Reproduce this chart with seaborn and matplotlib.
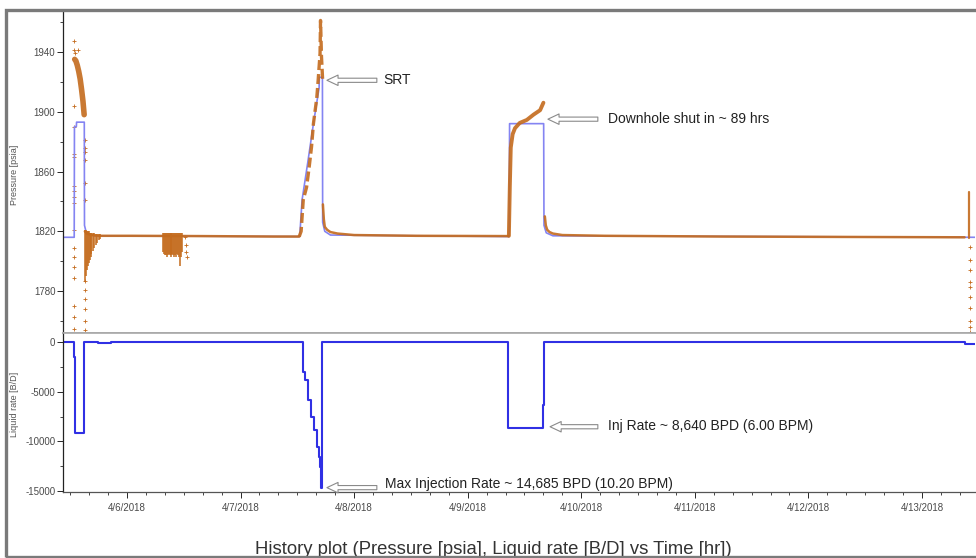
import numpy as np
import pandas as pd
import matplotlib
matplotlib.use("Agg")
import matplotlib.pyplot as plt
import matplotlib.dates as mdates
from matplotlib.patches import Rectangle
from matplotlib.ticker import MultipleLocator
import seaborn as sns

# time origin: all times below are hours since 4/5/2018 00:00
T0 = pd.Timestamp("2018-04-05 00:00")

# model (simulated) pressure, psia
model_t = [10.5, 12.85, 12.9, 13.3, 13.35, 14.98, 15.02, 15.4, 17.0, 60.5, 61.0,
           62.2, 63.4, 64.6, 64.65, 65.3, 65.35, 65.8, 67.0, 104.75, 104.85,
           112.05, 112.12, 112.6, 114.0, 203.2]
model_p = [1816, 1816, 1890, 1890, 1893, 1893, 1824, 1819, 1817, 1816.5, 1841,
           1866, 1892, 1916, 1923, 1923, 1826, 1820, 1817.5, 1816.5, 1892,
           1892, 1824, 1819, 1817, 1816]

# gauge pressure, continuous parts
inj1_t = [12.95, 13.2, 13.5, 13.8, 14.1, 14.4, 14.7, 14.95]
inj1_p = [1935, 1934, 1931, 1927, 1922, 1915, 1907, 1898]
flat1_t = [15.1, 15.5, 16.5, 18.5, 25.0, 40.0, 55.0, 60.4]
flat1_p = [1820, 1818.5, 1817.5, 1817, 1817, 1816.8, 1816.5, 1816.5]
srt_t = [60.4, 60.8, 61.25, 61.95, 62.5, 63.0, 63.4, 64.1, 64.4, 64.8, 64.9, 65.1, 65.35]
srt_p = [1816.5, 1820, 1841, 1849.5, 1863, 1876.5, 1892, 1909, 1921, 1939, 1961, 1937, 1921]
fall1_t = [65.4, 65.6, 65.8, 66.3, 67.0, 68.5, 72.0, 85.0, 104.6]
fall1_p = [1838, 1828, 1823, 1821, 1819.5, 1818.5, 1817.5, 1817, 1816.8]
inj2_t = [104.7, 104.9, 105.1, 105.5, 106.0, 107.0, 108.5, 109.9, 111.3, 112.0]
inj2_p = [1817, 1850, 1876, 1885, 1889, 1892.5, 1894.5, 1898, 1901, 1906]
fall2_t = [112.3, 112.5, 112.8, 113.3, 114.0, 116.0, 125.0, 150.0, 180.0, 201.0]
fall2_p = [1830, 1824, 1821, 1819.5, 1818.5, 1817.5, 1817, 1816.5, 1816.2, 1816]
end_t = [202.0, 202.0]
end_p = [1846, 1815.5]

# gauge pressure, loose points
loose_t = [12.7, 12.7, 12.7, 12.7, 12.7, 12.7, 12.7, 12.7, 12.7, 12.7, 12.7, 12.7,
           12.7, 12.7, 12.7, 12.7, 12.7, 12.7, 13.0, 13.7,
           15.05, 15.05, 15.05, 15.05, 15.05, 15.05, 15.05, 15.05, 15.05, 15.05,
           15.05, 15.05,
           36.3, 36.4, 36.5, 36.6,
           202.2, 202.2, 202.2, 202.2, 202.2, 202.2, 202.2, 202.2, 202.2, 202.2]
loose_p = [1947, 1941, 1904, 1890, 1872, 1870, 1850, 1847, 1843, 1839, 1821, 1809,
           1803, 1796, 1789, 1770, 1763, 1755, 1939, 1941.5,
           1881, 1876, 1873, 1868, 1852, 1841, 1787, 1781, 1775, 1768,
           1760, 1754,
           1816, 1811, 1806, 1803,
           1809.5, 1800.5, 1794, 1786, 1783, 1776, 1769, 1760, 1756, 1752.5]

# gauge pressure, dense noisy bands (low / high per time)
band1_t = [15.1, 15.3, 15.5, 15.7, 15.9, 16.1, 16.3, 16.5, 16.8, 17.1, 17.4, 17.7, 18.0, 18.3]
band1_lo = [1786, 1790, 1794, 1797, 1799, 1801, 1803, 1805, 1807, 1809, 1811, 1812, 1814, 1815]
band1_hi = [1821, 1821, 1820, 1820, 1820, 1819, 1819, 1819, 1819, 1819, 1818, 1818, 1818, 1818]
band2_t = [31.6, 31.8, 32.0, 32.2, 32.4, 32.6, 32.8, 33.0, 33.2, 33.4, 33.6,
           33.8, 34.0, 34.2, 34.4, 34.6, 34.8, 35.0, 35.2, 35.4, 35.6]
band2_lo = [1806, 1805, 1804, 1804, 1803, 1804, 1805, 1804, 1803, 1804, 1805,
            1804, 1803, 1804, 1803, 1805, 1804, 1803, 1797, 1803, 1806]
band2_hi = [1819, 1819, 1819, 1819, 1819, 1819, 1819, 1819, 1819, 1819, 1819,
            1819, 1819, 1819, 1819, 1819, 1819, 1819, 1819, 1819, 1819]

# liquid rate, B/D (step values)
rate_t = [10.5, 12.8, 12.95, 15.0, 17.9, 20.6, 61.1, 61.6, 62.2, 62.9, 63.5,
          64.1, 64.5, 64.8, 64.9, 65.3, 104.6, 112.0, 112.1, 201.0, 203.2]
rate_q = [0, -1500, -9150, 0, -150, 0, -3000, -3800, -5850, -7500, -8850,
          -10550, -11550, -12550, -14685, 0, -8640, -6300, 0, -200, -200]

ORANGE = "#c46b1d"
BLUE_P = "#8484f2"
BLUE_Q = "#3030e4"
GREY = "#4a4a4a"


def hrs(h):
    return T0 + pd.to_timedelta(np.asarray(h, dtype=float), unit="h")


def num(h):
    return mdates.date2num(T0 + pd.Timedelta(hours=h))


sns.set_style("white")
plt.rcParams["font.family"] = ["Liberation Sans", "DejaVu Sans"]
plt.rcParams["axes.unicode_minus"] = False

W, H = 976, 558
fig = plt.figure(figsize=(W / 100, H / 100), dpi=100)
ax_p = fig.add_axes([63 / W, (H - 333) / H, 912 / W, 323 / H])
ax_q = fig.add_axes([63 / W, (H - 492) / H, 912 / W, 159 / H], sharex=ax_p)

# pressure panel
sns.lineplot(x=hrs(model_t), y=model_p, ax=ax_p, color=BLUE_P, lw=1.2,
             estimator=None, sort=False)
ax_p.vlines(hrs(band1_t), band1_lo, band1_hi, color=ORANGE, lw=1.3, alpha=0.85)
ax_p.vlines(hrs(band2_t), band2_lo, band2_hi, color=ORANGE, lw=1.3, alpha=0.85)
for seg_t, seg_p, lw in [(inj1_t, inj1_p, 4.0), (flat1_t, flat1_p, 1.8),
                         (fall1_t, fall1_p, 1.8), (inj2_t, inj2_p, 2.8),
                         (fall2_t, fall2_p, 1.8), (end_t, end_p, 1.6)]:
    sns.lineplot(x=hrs(seg_t), y=seg_p, ax=ax_p, color=ORANGE, lw=lw,
                 estimator=None, sort=False, alpha=0.9)
sns.lineplot(x=hrs(srt_t), y=srt_p, ax=ax_p, color=ORANGE, lw=2.4,
             estimator=None, sort=False, alpha=0.9,
             linestyle=(0, (3.0, 1.2)))
sns.scatterplot(x=hrs(loose_t), y=loose_p, ax=ax_p, marker="+", s=5,
                color=ORANGE, linewidth=0.6)

# rate panel
sns.lineplot(x=hrs(rate_t), y=rate_q, ax=ax_q, color=BLUE_Q, lw=1.5,
             estimator=None, sort=False, drawstyle="steps-post")

ax_p.set_ylim(1752, 1968)
ax_q.set_ylim(-15100, 906)
ax_q.set_xlim(hrs([10.48])[0], hrs([203.2])[0])

ax_p.yaxis.set_major_locator(MultipleLocator(40, offset=20))
ax_p.yaxis.set_minor_locator(MultipleLocator(20))
ax_q.yaxis.set_major_locator(MultipleLocator(5000))
ax_q.yaxis.set_minor_locator(MultipleLocator(2500))
ax_q.xaxis.set_major_locator(mdates.DayLocator())
ax_q.xaxis.set_minor_locator(mdates.HourLocator(byhour=range(0, 24, 4)))
ax_q.xaxis.set_major_formatter(mdates.DateFormatter("%-m/%-d/%Y"))

for ax in (ax_p, ax_q):
    ax.tick_params(axis="y", which="major", direction="out", length=4, width=0.7,
                   labelsize=7, labelcolor=GREY, pad=1.5, left=True)
    ax.tick_params(axis="y", which="minor", direction="out", length=2, width=0.6, left=True)
    ax.spines["right"].set_visible(False)
    ax.spines["left"].set_color("#222222")
    ax.spines["left"].set_linewidth(0.9)
ax_p.tick_params(axis="x", which="both", bottom=False, labelbottom=False)
ax_q.tick_params(axis="x", which="major", direction="out", length=4, width=0.7,
                 labelsize=7, labelcolor=GREY, pad=4, bottom=True)
ax_q.tick_params(axis="x", which="minor", direction="out", length=2, width=0.6, bottom=True)
ax_p.spines["top"].set_visible(False)
ax_p.spines["bottom"].set_color("#a8a8a8")
ax_p.spines["bottom"].set_linewidth(1.2)
ax_q.spines["top"].set_color("#a8a8a8")
ax_q.spines["top"].set_linewidth(1.2)
ax_q.spines["bottom"].set_color("#555555")
ax_q.spines["bottom"].set_linewidth(0.9)

ax_p.set_xlabel("")
ax_q.set_xlabel("")
ax_p.set_ylabel("Pressure [psia]", fontsize=6.5, color="#555555")
ax_q.set_ylabel("Liquid rate [B/D]", fontsize=6.5, color="#555555")
ax_p.yaxis.set_label_coords(-44 / 912, 0.49)
ax_q.yaxis.set_label_coords(-44 / 912, 0.55)

# annotations: hollow arrows pointing left, then the note text
arrow = dict(arrowstyle="simple,head_length=0.8,head_width=0.75,tail_width=0.3",
             fc="white", ec="#8a8a8a", lw=0.8, shrinkA=0, shrinkB=0)
notes = [
    (ax_p, 66.25, 76.8, 1921, 78.1, 1921, "SRT"),
    (ax_p, 112.95, 123.5, 1895, 125.6, 1895, "Downhole shut in ~ 89 hrs"),
    (ax_q, 113.4, 123.5, -8530, 125.6, -8450, "Inj Rate ~ 8,640 BPD (6.00 BPM)"),
    (ax_q, 66.25, 76.8, -14660, 78.5, -14250, "Max Injection Rate ~ 14,685 BPD (10.20 BPM)"),
]
for ax, tip, tail, y_arrow, tx, ty, label in notes:
    ax.annotate("", xy=(num(tip), y_arrow), xytext=(num(tail), y_arrow),
                arrowprops=arrow, annotation_clip=False)
    ax.text(num(tx), ty, label, fontsize=10, color="#222222", va="center", ha="left")

fig.text(493 / W, 1 - 550 / H,
         "History plot (Pressure [psia], Liquid rate [B/D] vs Time [hr])",
         fontsize=13.3, color="#333333", ha="center", va="center", zorder=3)

# screenshot frame
fig.patches.append(Rectangle((5.5 / W, 1.5 / H), 1.05, (H - 11) / H,
                             transform=fig.transFigure, fill=False,
                             ec="#7a7a7a", lw=2.4, zorder=5))

fig.savefig("out.png", dpi=100)
